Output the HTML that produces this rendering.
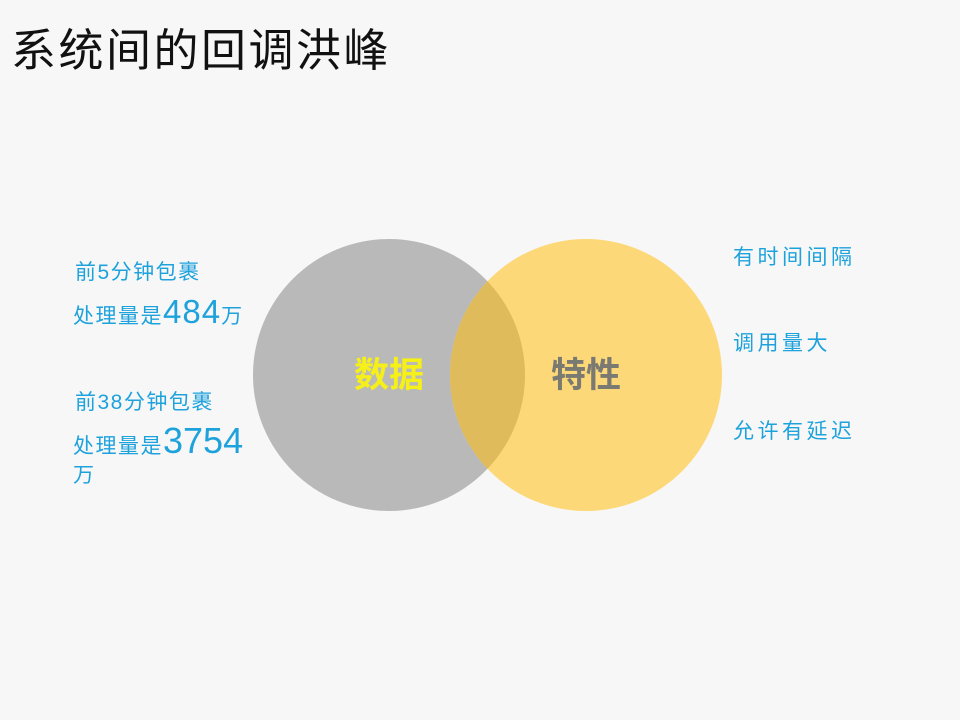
<!DOCTYPE html>
<html><head><meta charset="utf-8"><style>
body{margin:0;width:960px;height:720px;background:#f7f7f7;overflow:hidden;position:relative;font-family:"Liberation Sans","Noto Sans CJK SC",sans-serif}
.t{position:absolute;white-space:nowrap;color:#1ea2dc;font-size:21px;line-height:1}
</style></head><body>
<div class="t" style="left:11px;top:28px;font-size:45px;color:#111;letter-spacing:2.5px">系统间的回调洪峰</div>
<svg style="position:absolute;left:0;top:0" width="960" height="720">
<circle cx="389" cy="375" r="136" fill="#b9b9b9"/>
<circle cx="586" cy="375" r="136" fill="#fcd878"/>
<clipPath id="c"><circle cx="389" cy="375" r="136"/></clipPath>
<circle cx="586" cy="375" r="136" fill="#dfbb5c" clip-path="url(#c)"/>
<text x="389" y="387" text-anchor="middle" font-size="35" font-weight="bold" fill="#f5ef1a" font-family="Noto Sans CJK SC,sans-serif">数据</text>
<text x="586" y="387" text-anchor="middle" font-size="35" font-weight="bold" fill="#7a7a72" font-family="Noto Sans CJK SC,sans-serif">特性</text>
</svg>
<div class="t" style="left:75px;top:262px;letter-spacing:1.5px">前5分钟包裹</div>
<div class="t" style="left:73px;top:295px;letter-spacing:1.5px">处理量是<span style="font-size:33px;letter-spacing:1px">484</span>万</div>
<div class="t" style="left:75px;top:392px;letter-spacing:1.5px">前38分钟包裹</div>
<div class="t" style="left:73px;top:423px;letter-spacing:1.5px">处理量是<span style="font-size:36px;letter-spacing:0">3754</span></div>
<div class="t" style="left:73px;top:465px">万</div>
<div class="t" style="left:733px;top:247px;letter-spacing:3.5px">有时间间隔</div>
<div class="t" style="left:733px;top:333px;letter-spacing:3.5px">调用量大</div>
<div class="t" style="left:733px;top:421px;letter-spacing:3.5px">允许有延迟</div>
</body></html>
